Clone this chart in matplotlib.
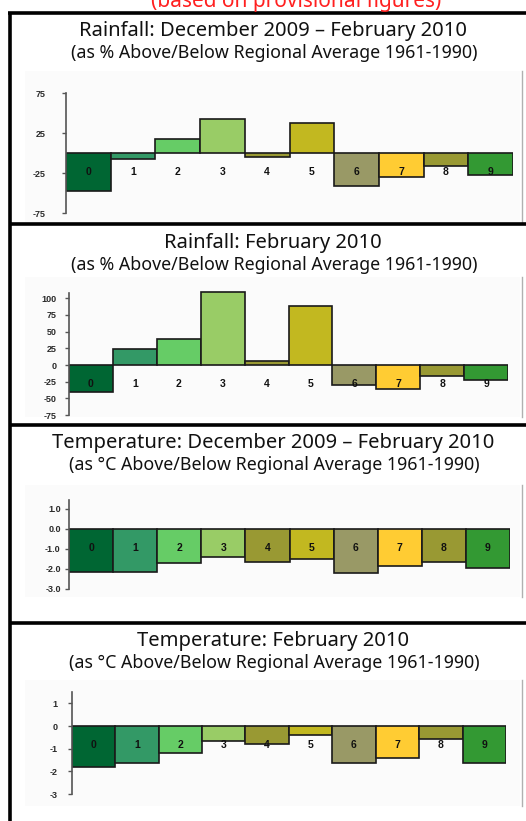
import matplotlib.pyplot as plt
from matplotlib.lines import Line2D
from matplotlib.patches import Rectangle

W, H = 526, 821

# region numbers 0-9 and their colours
regions = ['0', '1', '2', '3', '4', '5', '6', '7', '8', '9']
region_colors = ['#006633', '#339966', '#66cc66', '#99cc66', '#999933',
                 '#c2b820', '#999966', '#ffcc33', '#999933', '#339933']

# values
rain_winter = [-48, -7, 17, 43, -5, 37, -41, -30, -16, -28]
rain_feb = [-41, 24, 39, 110, 6, 88, -30, -36, -17, -23]
temp_winter = [-2.15, -2.15, -1.68, -1.42, -1.63, -1.52, -2.18, -1.85, -1.63, -1.93]
temp_feb = [-1.82, -1.62, -1.2, -0.66, -0.8, -0.4, -1.62, -1.42, -0.57, -1.62]

rain_ticks_1 = [75, 25, -25, -75]
rain_ticks_2 = [100, 75, 50, 25, 0, -25, -50, -75]
temp_ticks_1 = [1.0, 0.0, -1.0, -2.0, -3.0]
temp_ticks_2 = [1, 0, -1, -2, -3]

titles = ['Rainfall: December 2009 \u2013 February 2010',
          'Rainfall: February 2010',
          'Temperature: December 2009 \u2013 February 2010',
          'Temperature: February 2010']
subtitles = ['(as % Above/Below Regional Average 1961-1990)',
             '(as % Above/Below Regional Average 1961-1990)',
             '(as \u00b0C Above/Below Regional Average 1961-1990)',
             '(as \u00b0C Above/Below Regional Average 1961-1990)']

fig = plt.figure(figsize=(W / 100, H / 100), dpi=100)
fig.patch.set_facecolor('white')


def fx(x):
    return x / W


def fy(y):
    return 1 - y / H


# red note, cut off at the top edge as in the source
fig.text(fx(296), fy(7), '(based on provisional figures)', color='#ff2020',
         fontsize=15, family='Noto Sans', ha='center', va='baseline')

# panel layout in pixels
panels = [
    dict(vals=rain_winter, ticks=rain_ticks_1, fmt='{:g}', ttl=36, sub=58,
         bg=(25, 71, 222), ax_x=66, ax_r=513, zero=153, ppu=0.8, ax_t=75, ax_b=222,
         bounds=(-75, 75), lab=-24, pad=12),
    dict(vals=rain_feb, ticks=rain_ticks_2, fmt='{:g}', ttl=248, sub=270,
         bg=(25, 277, 417), ax_x=69, ax_r=508, zero=365, ppu=0.667, ax_t=280, ax_b=418,
         bounds=(-75, 108), lab=-29, pad=6),
    dict(vals=temp_winter, ticks=temp_ticks_1, fmt='{:.1f}', ttl=448, sub=470,
         bg=(25, 485, 597), ax_x=69, ax_r=510, zero=529, ppu=20, ax_t=488, ax_b=596,
         bounds=(-3, 1.45), lab=-0.97, pad=3),
    dict(vals=temp_feb, ticks=temp_ticks_2, fmt='{:g}', ttl=646, sub=668,
         bg=(25, 680, 806), ax_x=71.7, ax_r=506, zero=726, ppu=22.7, ax_t=684, ax_b=805,
         bounds=(-3, 1.5), lab=-0.84, pad=7),
]

for i, p in enumerate(panels):
    fig.text(fx(273), fy(p['ttl']), titles[i], fontsize=14.5,
             family='Noto Sans', ha='center', va='baseline', color='#111111')
    fig.text(fx(274), fy(p['sub']), subtitles[i], fontsize=12.8,
             family='Noto Sans', ha='center', va='baseline', color='#111111')

    bx, bt, bb = p['bg']
    fig.patches.append(Rectangle((fx(bx), fy(bb)), fx(520 - bx), (bb - bt) / H,
                                 transform=fig.transFigure, facecolor='#fbfbfb',
                                 edgecolor='none', zorder=-5))
    fig.lines.append(Line2D([fx(522), fx(522)], [fy(bt), fy(bb)],
                            transform=fig.transFigure, color='#b0b0b0', lw=1))

    ax = fig.add_axes([fx(p['ax_x']), fy(p['ax_b']),
                       fx(p['ax_r'] - p['ax_x']), (p['ax_b'] - p['ax_t']) / H])
    ax.set_facecolor('none')
    ax.set_xlim(0, 10)
    ax.set_ylim((p['zero'] - p['ax_b']) / p['ppu'], (p['zero'] - p['ax_t']) / p['ppu'])
    ax.bar(range(10), p['vals'], width=1, align='edge', color=region_colors,
           edgecolor='#1a1a1a', linewidth=1.2, zorder=2)
    for k, r in enumerate(regions):
        ax.text(k + 0.5, p['lab'], r, ha='center', va='center', fontsize=7.5,
                fontweight='bold', family='Liberation Sans', color='#111111', zorder=3)
    for s in ['top', 'right', 'bottom']:
        ax.spines[s].set_visible(False)
    ax.spines['left'].set_bounds(*p['bounds'])
    ax.spines['left'].set_color('#555555')
    ax.spines['left'].set_linewidth(1.2)
    ax.set_xticks([])
    ax.set_yticks(p['ticks'])
    ax.set_yticklabels([p['fmt'].format(t) for t in p['ticks']])
    ax.tick_params(axis='y', length=3, width=1, color='#555555', pad=p['pad'],
                   labelsize=6.5, labelcolor='#2a2a2a')
    for t in ax.get_yticklabels():
        t.set_fontweight('bold')
        t.set_family('Liberation Sans')

# black frame lines
frame = dict(transform=fig.transFigure, color='black', lw=2.6, solid_capstyle='butt')
fig.lines.append(Line2D([fx(8), 1], [fy(13), fy(13)], **frame))
fig.lines.append(Line2D([fx(10.3), fx(10.3)], [fy(12), 0], **frame))
for yy in [224.5, 425.5, 623]:
    fig.lines.append(Line2D([fx(9), 1], [fy(yy), fy(yy)], **frame))

fig.savefig('out.png', dpi=100, facecolor='white')
